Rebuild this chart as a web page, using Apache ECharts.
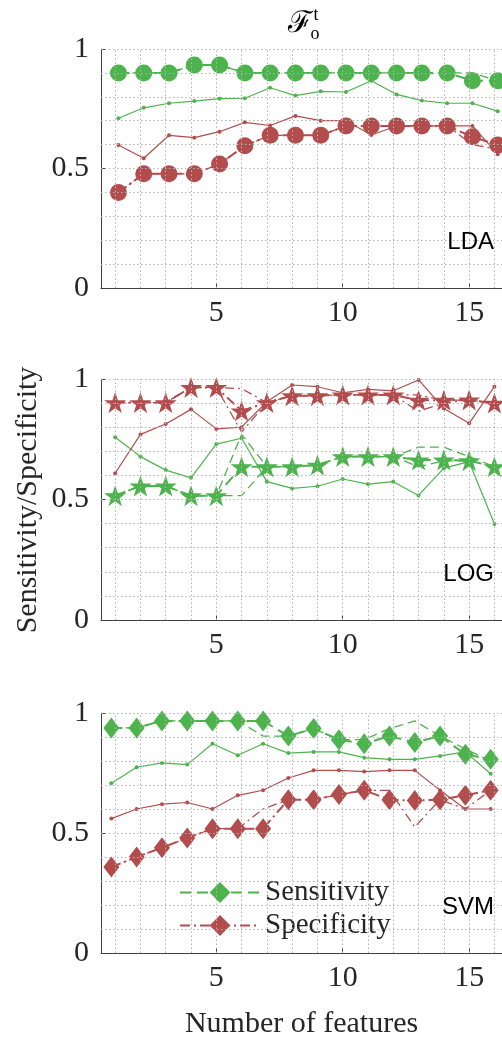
<!DOCTYPE html>
<html>
<head>
<meta charset="utf-8">
<script src="https://cdn.jsdelivr.net/npm/echarts@6/dist/echarts.min.js"></script>
<style>
html,body{margin:0;padding:0;background:#fff;}
#chart{width:502px;height:1041px;}
</style>
</head>
<body>
<div id="chart"></div>
<script>
// ---------- data ----------
const features = [1,2,3,4,5,6,7,8,9,10,11,12,13,14,15,16];
const xTickLabels = [5, 10, 15];
const yTickLabels = [0, 0.5, 1];
const gridXs = [1,2,3,4,5,6,7,8,9,10,11,12,13,14,15,16];
const gridYs = [0.1,0.2,0.3,0.4,0.5,0.6,0.7,0.8,0.9,1.0];
const panelNames = ['LDA', 'LOG', 'SVM'];
const featureShift = [0.13, 0, -0.15]; // per-classifier horizontal shift of the curves (data units)

// LDA
const ldaSensMain = [0.900,0.900,0.900,0.933,0.933,0.900,0.900,0.900,0.900,0.900,0.900,0.900,0.900,0.900,0.867,0.867];
const ldaSensThin = [0.710,0.754,0.773,0.782,0.792,0.794,0.838,0.805,0.823,0.820,0.867,0.810,0.784,0.773,0.773,0.740];
const ldaSensAlt  = [0.900,0.900,0.900,0.933,0.933,0.900,0.900,0.900,0.900,0.900,0.900,0.900,0.900,0.900,0.900,0.867];
const ldaSpecMain = [0.400,0.478,0.478,0.478,0.519,0.595,0.639,0.639,0.639,0.678,0.678,0.678,0.678,0.678,0.633,0.598];
const ldaSpecThin = [0.598,0.543,0.639,0.629,0.654,0.693,0.680,0.720,0.700,0.700,0.640,0.678,0.678,0.678,0.678,0.560];
const ldaSpecAlt  = [0.400,0.478,0.478,0.478,0.519,0.595,0.639,0.639,0.639,0.678,0.678,0.678,0.678,0.678,0.600,0.580];

// LOG
const logSensMain = [0.516,0.556,0.556,0.516,0.516,0.636,0.636,0.636,0.643,0.678,0.678,0.678,0.664,0.664,0.661,0.636];
const logSensThin = [0.758,0.678,0.622,0.590,0.730,0.754,0.574,0.546,0.555,0.585,0.564,0.574,0.517,0.630,0.657,0.398];
const logSensAlt  = [0.516,0.556,0.556,0.516,0.516,0.770,0.636,0.636,0.643,0.678,0.678,0.678,0.717,0.717,0.678,0.636];
const logSensAlt2 = [0.516,0.556,0.556,0.516,0.516,0.516,0.636,0.636,0.643,0.678,0.678,0.678,0.636,0.660,0.661,0.636];
const logSpecMain = [0.902,0.902,0.902,0.965,0.965,0.868,0.902,0.931,0.931,0.934,0.934,0.934,0.912,0.912,0.913,0.900];
const logSpecThin = [0.609,0.770,0.813,0.874,0.793,0.800,0.906,0.975,0.968,0.943,0.957,0.951,0.996,0.878,0.816,0.968];
const logSpecAlt  = [0.902,0.902,0.902,0.965,0.965,0.960,0.902,0.931,0.931,0.934,0.934,0.934,0.866,0.900,0.913,0.900];
const logSpecAlt2 = [0.902,0.902,0.902,0.965,0.965,0.780,0.902,0.931,0.931,0.934,0.934,0.934,0.934,0.912,0.913,0.900];

// SVM
const svmSensMain = [0.938,0.938,0.967,0.967,0.967,0.967,0.967,0.904,0.935,0.889,0.872,0.904,0.877,0.904,0.828,0.807];
const svmSensThin = [0.707,0.774,0.792,0.785,0.872,0.824,0.872,0.833,0.838,0.838,0.814,0.807,0.807,0.821,0.838,0.747];
const svmSensAlt  = [0.938,0.938,0.967,0.967,0.967,0.967,0.904,0.904,0.935,0.889,0.889,0.935,0.967,0.904,0.850,0.800];
const svmSpecMain = [0.358,0.400,0.439,0.479,0.518,0.518,0.518,0.639,0.639,0.660,0.678,0.639,0.635,0.639,0.657,0.678];
const svmSpecThin = [0.560,0.600,0.620,0.627,0.600,0.657,0.678,0.729,0.761,0.761,0.756,0.761,0.761,0.678,0.600,0.600];
const svmSpecAlt  = [0.358,0.400,0.439,0.479,0.518,0.518,0.600,0.639,0.639,0.660,0.678,0.678,0.525,0.639,0.600,0.678];

// ---------- styling ----------
const GREEN = '#4DB34D';
const RED = '#B34D4D';
const SERIF = '"Liberation Serif", "Times New Roman", serif';
const SANS = '"Liberation Sans", Arial, sans-serif';
const TXT = '#262626';
const AX = '#404040';
const STAR = 'path://M50,0 L61.8,35.1 L98.1,35.1 L68.8,56.7 L79.4,91.0 L50,70 L20.6,91.0 L31.2,56.7 L1.9,35.1 L38.2,35.1 Z';

const gridBoxes = [
  {left: 101, top: 49, width: 401, height: 239},
  {left: 101, top: 379, width: 401, height: 241},
  {left: 101, top: 713, width: 401, height: 240}
];

const panels = [
  {sens: ldaSensMain, sensThin: ldaSensThin, sensAlt: [ldaSensAlt], spec: ldaSpecMain, specThin: ldaSpecThin, specAlt: [ldaSpecAlt], shape: 'circle', size: 17},
  {sens: logSensMain, sensThin: logSensThin, sensAlt: [logSensAlt, logSensAlt2], spec: logSpecMain, specThin: logSpecThin, specAlt: [logSpecAlt, logSpecAlt2], shape: STAR, size: [22,21]},
  {sens: svmSensMain, sensThin: svmSensThin, sensAlt: [svmSensAlt], spec: svmSpecMain, specThin: svmSpecThin, specAlt: [svmSpecAlt], shape: 'diamond', size: [16,21]}
];

function pts(vals, shift) { return features.map((f, i) => [f + shift, vals[i]]); }

const grids = [], xAxes = [], yAxes = [], series = [];
panels.forEach((p, k) => {
  grids.push(Object.assign({containLabel: false}, gridBoxes[k]));
  xAxes.push({
    gridIndex: k, type: 'value', min: 0.44, max: 16.3,
    axisLine: {show: true, onZero: false, lineStyle: {color: AX, width: 1}},
    axisTick: {show: true, inside: true, length: 5, customValues: xTickLabels, lineStyle: {color: AX}},
    axisLabel: {customValues: xTickLabels, fontFamily: SERIF, fontSize: 30, color: TXT, margin: 10},
    splitLine: {show: false},
    name: k === 2 ? 'Number of features' : '',
    nameLocation: 'middle', nameGap: 56,
    nameTextStyle: {fontFamily: SERIF, fontSize: 30, color: TXT}
  });
  yAxes.push({
    gridIndex: k, type: 'value', min: 0, max: 1, interval: 0.5,
    axisLine: {show: true, onZero: false, lineStyle: {color: AX, width: 1}},
    axisTick: {show: true, inside: true, length: 5, lineStyle: {color: AX}},
    axisLabel: {fontFamily: SERIF, fontSize: 30, color: TXT, margin: 12,
      formatter: v => (yTickLabels.indexOf(v) >= 0 ? String(v) : '')},
    splitLine: {show: false}
  });
  const sh = featureShift[k];
  // grid lines (dotted) carried by an invisible helper series
  series.push({
    type: 'line', xAxisIndex: k, yAxisIndex: k, data: pts(p.sens, sh), z: 0,
    symbol: 'none', lineStyle: {opacity: 0}, silent: true,
    markLine: {
      silent: true, symbol: ['none', 'none'], label: {show: false}, animation: false,
      lineStyle: {type: [1.5, 2.5], color: '#b3b3b3', width: 1},
      emphasis: {disabled: true},
      data: gridXs.map(v => ({xAxis: v})).concat(gridYs.map(v => ({yAxis: v})))
    }
  });
  p.sensAlt.forEach(a => series.push({
    type: 'line', xAxisIndex: k, yAxisIndex: k, data: pts(a, sh), symbol: 'none', z: 2,
    lineStyle: {color: GREEN, width: 1.3, type: [9, 5]}
  }));
  p.specAlt.forEach(a => series.push({
    type: 'line', xAxisIndex: k, yAxisIndex: k, data: pts(a, sh), symbol: 'none', z: 2,
    lineStyle: {color: RED, width: 1.3, type: [9, 4, 2, 4]}
  }));
  series.push({
    type: 'line', xAxisIndex: k, yAxisIndex: k, data: pts(p.sensThin, sh), z: 3,
    symbol: 'circle', symbolSize: 4, itemStyle: {color: GREEN},
    lineStyle: {color: GREEN, width: 1.2}
  });
  series.push({
    type: 'line', xAxisIndex: k, yAxisIndex: k, data: pts(p.specThin, sh), z: 3,
    symbol: 'circle', symbolSize: 4, itemStyle: {color: RED},
    lineStyle: {color: RED, width: 1.2}
  });
  series.push({
    name: k === 2 ? 'Sensitivity' : 'Sens' + k,
    type: 'line', xAxisIndex: k, yAxisIndex: k, data: pts(p.sens, sh), z: 4,
    symbol: p.shape, symbolSize: p.size, itemStyle: {color: GREEN},
    lineStyle: {color: GREEN, width: 2, type: [11, 6]}
  });
  series.push({
    name: k === 2 ? 'Specificity' : 'Spec' + k,
    type: 'line', xAxisIndex: k, yAxisIndex: k, data: pts(p.spec, sh), z: 4,
    symbol: p.shape, symbolSize: p.size, itemStyle: {color: RED},
    lineStyle: {color: RED, width: 2, type: [10, 4, 2, 4]}
  });
});

const labelY = [242, 574, 907];
const graphics = [
  {type: 'text', x: 300, y: 24, style: {text: 'ℱ', fontFamily: '"DejaVu Serif", serif', fontSize: 30, fill: '#000', align: 'center', verticalAlign: 'middle'}},
  {type: 'text', x: 316, y: 15, style: {text: 't', fontFamily: SERIF, fontSize: 18, fill: '#000', align: 'center', verticalAlign: 'middle'}},
  {type: 'text', x: 315, y: 34, style: {text: 'o', fontFamily: SERIF, fontSize: 18, fill: '#000', align: 'center', verticalAlign: 'middle'}},
  {type: 'text', x: 28, y: 500, rotation: Math.PI / 2, style: {text: 'Sensitivity/Specificity', fontFamily: SERIF, fontSize: 30, fill: TXT, align: 'center', verticalAlign: 'middle'}}
];
panelNames.forEach((n, k) => graphics.push({
  type: 'text', x: 494, y: labelY[k], z: 10,
  style: {text: n, fontFamily: SANS, fontSize: 24, fill: '#000', align: 'right', verticalAlign: 'middle'}
}));

const chart = echarts.init(document.getElementById('chart'), null, {renderer: 'canvas'});
chart.setOption({
  animation: false,
  backgroundColor: '#fff',
  grid: grids,
  xAxis: xAxes,
  yAxis: yAxes,
  legend: {
    data: ['Sensitivity', 'Specificity'],
    orient: 'vertical', left: 174, top: 873,
    itemWidth: 80, itemHeight: 26, itemGap: 4,
    textStyle: {fontFamily: SERIF, fontSize: 29, color: TXT},
    selectedMode: false
  },
  graphic: graphics,
  series: series
});
</script>
</body>
</html>
